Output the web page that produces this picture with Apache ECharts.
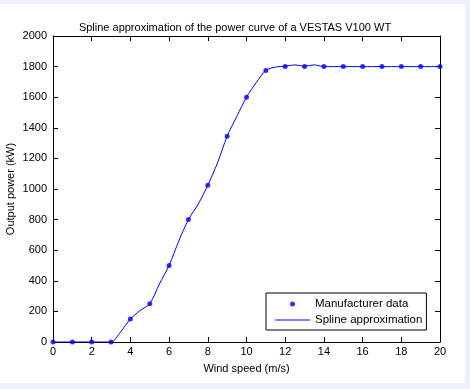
<!DOCTYPE html>
<html>
<head>
<meta charset="utf-8">
<script src="https://cdn.jsdelivr.net/npm/echarts@6/dist/echarts.min.js"></script>
<style>
html,body{margin:0;padding:0;background:#edf2fa;width:470px;height:389px;overflow:hidden;}
#panel{position:absolute;left:0;top:4px;width:465px;height:379px;background:#ffffff;}
#chart{position:absolute;left:0;top:0;width:470px;height:389px;}
</style>
</head>
<body>
<div id="panel"></div>
<div id="chart"></div>
<script>
// Manufacturer data (wind speed m/s, power kW)
var windSpeed = [0,1,2,3,4,5,6,7,8,9,10,11,12,13,14,15,16,17,18,19,20];
var manufacturerPower = [0,0,0,0,150,250,500,800,1025,1345,1600,1775,1800,1800,1800,1800,1800,1800,1800,1800,1800];
// Spline approximation at half-step wind speeds
var splineSpeed = [0,0.5,1,1.5,2,2.5,3,3.5,4,4.5,5,5.5,6,6.5,7,7.5,8,8.5,9,9.5,10,10.5,11,11.5,12,12.5,13,13.5,14,14.5,15,15.5,16,16.5,17,17.5,18,18.5,19,19.5,20];
var splinePower = [0,0,0,0,0,0,0,67,150,205,250,380,500,660,800,900,1025,1170,1345,1475,1600,1695,1775,1797,1803,1811,1803,1811,1800,1800,1800,1800,1800,1800,1800,1800,1800,1800,1800,1800,1800];
var xTicks = {min:0, max:20, interval:2};
var yTicks = {min:0, max:2000, interval:200};

var chart = echarts.init(document.getElementById('chart'), null, {renderer:'canvas'});
var font = 'Arial, "Liberation Sans", sans-serif';
function pairs(xs, ys){ return xs.map(function(x,i){ return [x, ys[i]]; }); }
function plain(v){ return String(v); }
var axisCommon = {
  type:'value',
  axisLine:{show:true, onZero:false, lineStyle:{color:'#000', width:1}},
  axisTick:{show:true, inside:true, length:5, lineStyle:{color:'#000', width:1}},
  splitLine:{show:false}
};
chart.setOption({
  animation:false,
  backgroundColor:'transparent',
  title:{
    text:'Spline approximation of the power curve of a VESTAS V100 WT',
    left:'center', top:17,
    textStyle:{fontFamily:font, fontSize:11, fontWeight:'normal', color:'#000'}
  },
  grid:{left:53, top:36, width:387, height:306, containLabel:false, outerBoundsMode:'none'},
  legend:{
    left:266, top:293, orient:'vertical',
    itemWidth:35, itemHeight:5, itemGap:2,
    padding:[4,4,3,9],
    borderColor:'#000', borderWidth:1, borderRadius:0,
    backgroundColor:'#fff',
    textStyle:{fontFamily:font, fontSize:11.5, color:'#000', lineHeight:14},
    data:[
      {name:'Manufacturer data', icon:'circle'},
      {name:'Spline approximation', icon:'path://M0,0h35v1h-35z'}
    ]
  },
  xAxis:[
    Object.assign({}, axisCommon, {
      min:xTicks.min, max:xTicks.max, interval:xTicks.interval, position:'bottom',
      name:'Wind speed (m/s)', nameLocation:'middle', nameGap:21, nameMoveOverlap:false,
      nameTextStyle:{fontFamily:font, fontSize:11, color:'#000'},
      axisLabel:{fontFamily:font, fontSize:11, color:'#000', margin:4, formatter:plain}
    }),
    Object.assign({}, axisCommon, {
      min:xTicks.min, max:xTicks.max, interval:xTicks.interval, position:'top',
      axisLabel:{show:false}
    })
  ],
  yAxis:[
    Object.assign({}, axisCommon, {
      min:yTicks.min, max:yTicks.max, interval:yTicks.interval, position:'left',
      name:'Output power (kW)', nameLocation:'middle', nameGap:37, nameMoveOverlap:false,
      nameTextStyle:{fontFamily:font, fontSize:11, color:'#000'},
      axisLabel:{fontFamily:font, fontSize:11, color:'#000', margin:6, formatter:plain}
    }),
    Object.assign({}, axisCommon, {
      min:yTicks.min, max:yTicks.max, interval:yTicks.interval, position:'right',
      axisLabel:{show:false}
    })
  ],
  series:[
    {
      name:'Manufacturer data', type:'scatter',
      data:pairs(windSpeed, manufacturerPower),
      symbol:'circle', symbolSize:5,
      itemStyle:{color:'#0000ff'},
      z:3
    },
    {
      name:'Spline approximation', type:'line',
      data:pairs(splineSpeed, splinePower),
      smooth:0.3, showSymbol:false, symbol:'none',
      lineStyle:{color:'#0000ff', width:1},
      itemStyle:{color:'#0000ff'},
      z:4
    }
  ]
});
</script>
</body>
</html>
